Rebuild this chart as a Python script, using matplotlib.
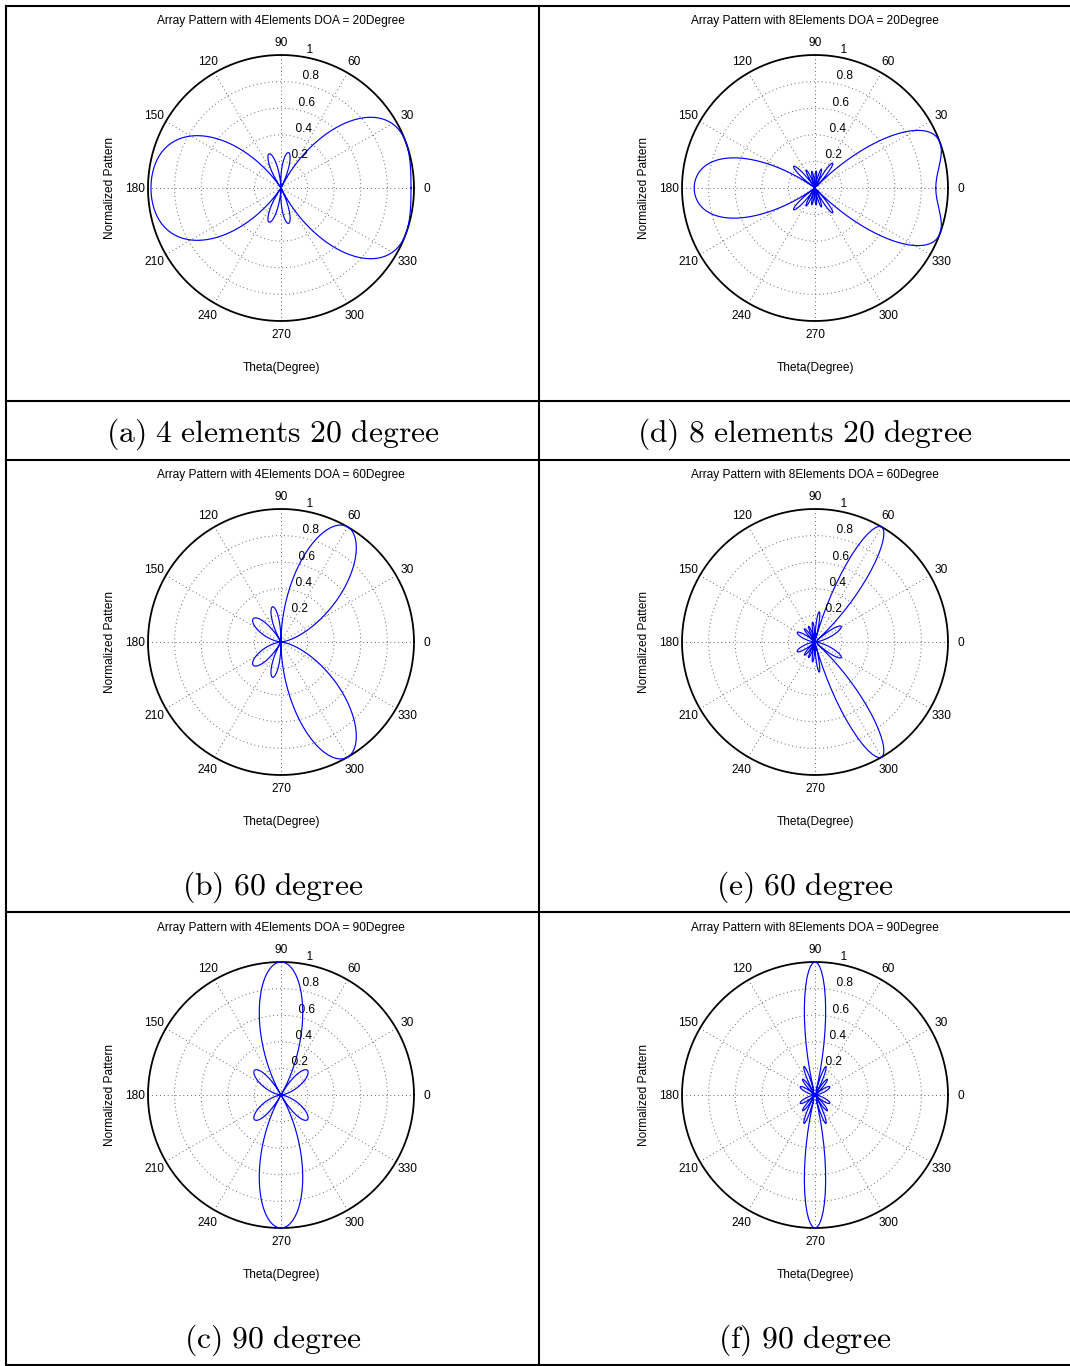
import numpy as np
import matplotlib
matplotlib.use("Agg")
import matplotlib.pyplot as plt
from matplotlib.lines import Line2D
from matplotlib.transforms import ScaledTranslation

# ---- chart values ----
element_counts = [4, 8]            # left column, right column
doa_degrees = [20, 60, 90]         # rows
element_spacing_wl = 0.5           # spacing in wavelengths
theta_step_deg = 1.0
radial_ticks = [0.2, 0.4, 0.6, 0.8, 1.0]
radial_tick_labels = ["0.2", "0.4", "0.6", "0.8", "1"]
angle_ticks = [0, 30, 60, 90, 120, 150]
captions = [["(a) 4 elements 20 degree", "(d) 8 elements 20 degree"],
            ["(b) 60 degree", "(e) 60 degree"],
            ["(c) 90 degree", "(f) 90 degree"]]

W, H = 1070, 1366
fig = plt.figure(figsize=(W / 100, H / 100), dpi=100)
plt.rcParams['mathtext.fontset'] = 'cm'

SANS = ['Liberation Sans', 'DejaVu Sans']
small = 8.6

def fx(x):
    return x / W

def fy(y):
    return 1 - y / H

col_cx = [281, 815]
row_cy = [188, 642, 1095]
R = 133
caption_y = [434, 887, 1340]
cell_cx = [272.5, 804.5]

theta_deg = np.arange(0, 360 + theta_step_deg, theta_step_deg)
theta = np.deg2rad(theta_deg)

for r_i, doa in enumerate(doa_degrees):
    for c_i, N in enumerate(element_counts):
        cx, cy = col_cx[c_i], row_cy[r_i]
        ax = fig.add_axes([fx(cx - R), fy(cy + R), 2 * R / W, 2 * R / H],
                          projection='polar')
        ax.set_ylim(0, 1)
        ax.axis('off')
        down = ax.transData + ScaledTranslation(0, -1 / 100, fig.dpi_scale_trans)
        # grid: dotted circles
        tt = np.linspace(0, 2 * np.pi, 721)
        for rv in radial_ticks[:-1]:
            ax.plot(tt, np.full_like(tt, rv), color='#666666',
                    linestyle=(0, (1, 3)), linewidth=0.7, clip_on=False)
        # spokes
        for a in angle_ticks:
            for aa in (a, a + 180):
                ax.plot([np.deg2rad(aa)] * 2, [0, 1], color='#666666',
                        linestyle=(0, (1, 3)), linewidth=0.7, clip_on=False)
        # outer circle
        ax.plot(tt, np.ones_like(tt), color='black', linewidth=1.3,
                clip_on=False)
        # angle labels
        for a in angle_ticks:
            for aa in (a, a + 180):
                ax.text(np.deg2rad(aa), 1.1, str(aa), ha='center',
                        va='center', fontsize=small, family=SANS,
                        clip_on=False, transform=down)
        # radial labels
        for rv, lab in zip(radial_ticks, radial_tick_labels):
            ax.text(np.deg2rad(82), rv + 0.01, '  ' + lab, ha='left',
                    va='bottom', fontsize=small, family=SANS, clip_on=False,
                    transform=down)
        # array pattern
        psi = 2 * np.pi * element_spacing_wl * (np.cos(theta) - np.cos(np.deg2rad(doa)))
        n = np.arange(N)[:, None]
        af = np.abs(np.exp(1j * n * psi[None, :]).sum(axis=0)) / N
        af = af / af.max()
        ax.plot(theta, af, color='#0000ff', linewidth=0.85, clip_on=False)
        # titles and labels
        fig.text(fx(cx), fy(cy - 167),
                 'Array Pattern with %dElements DOA = %dDegree' % (N, doa),
                 ha='center', va='center', fontsize=small, family=SANS)
        fig.text(fx(cx), fy(cy + 180), 'Theta(Degree)', ha='center',
                 va='center', fontsize=small, family=SANS)
        fig.text(fx(cx - 171), fy(cy), 'Normalized Pattern', ha='center',
                 va='center', rotation=90, fontsize=small, family=SANS)
        # caption
        cap = captions[r_i][c_i].replace(' ', r'\ ')
        fig.text(fx(cell_cx[c_i]), fy(caption_y[r_i]), r'$\mathrm{' + cap + '}$',
                 ha='center', va='center', fontsize=22.8)

# table lines
lw = 1.5
for y in [6, 401, 460, 912, 1365]:
    fig.add_artist(Line2D([fx(6), fx(1070)], [fy(y), fy(y)], color='black',
                          linewidth=lw))
for x in [6, 539]:
    fig.add_artist(Line2D([fx(x), fx(x)], [fy(6), fy(1365)], color='black',
                          linewidth=lw))

fig.savefig('out.png', dpi=100)
